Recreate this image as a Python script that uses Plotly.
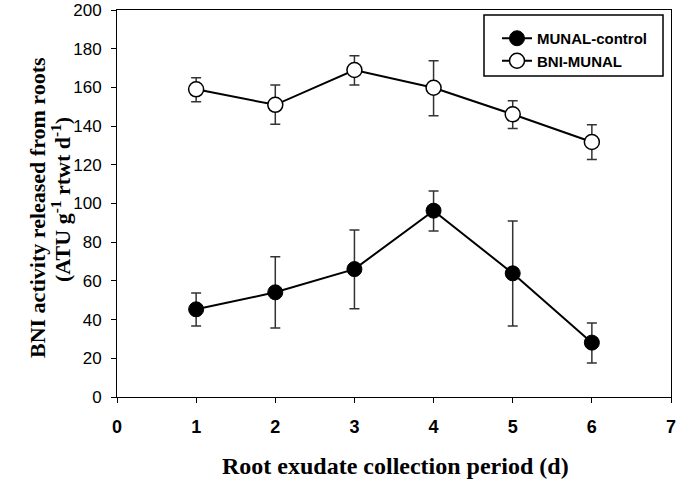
import plotly.graph_objects as go

days = [1, 2, 3, 4, 5, 6]

control_mean = [45.3, 54.1, 66.1, 96.3, 63.9, 28.1]
control_upper = [53.7, 72.5, 86.3, 106.5, 91.0, 38.2]
control_lower = [36.7, 35.7, 45.6, 85.8, 36.7, 17.6]

bni_mean = [159.0, 151.0, 169.0, 159.8, 146.1, 131.8]
bni_upper = [165.0, 161.2, 176.4, 173.8, 153.1, 140.7]
bni_lower = [152.6, 140.9, 161.2, 145.4, 138.7, 122.8]

x_ticks = [0, 1, 2, 3, 4, 5, 6, 7]
y_ticks = [0, 20, 40, 60, 80, 100, 120, 140, 160, 180, 200]

W, H = 677, 483
L, R, T, B = 117, 6, 10, 86
PW, PH = W - L - R, H - T - B


def px_x(p):
    return (p - L) / PW


def px_y(p):
    return (H - B - p) / PH


def err(mean, upper, lower):
    plus = [u - m for u, m in zip(upper, mean)]
    minus = [m - l for m, l in zip(mean, lower)]
    return dict(type="data", symmetric=False, array=plus, arrayminus=minus,
                color="#333333", thickness=1.5, width=5)


fig = go.Figure()
fig.add_trace(go.Scatter(
    x=days, y=control_mean, mode="lines+markers", name="<b>MUNAL-control</b>",
    line=dict(color="black", width=2),
    marker=dict(symbol="circle", size=15, color="black", line=dict(color="black", width=1)),
    error_y=err(control_mean, control_upper, control_lower),
))
fig.add_trace(go.Scatter(
    x=days, y=bni_mean, mode="lines+markers", name="<b>BNI-MUNAL</b>",
    line=dict(color="black", width=2),
    marker=dict(symbol="circle", size=15, color="white", line=dict(color="black", width=1.5)),
    error_y=err(bni_mean, bni_upper, bni_lower),
))

# legend frame
fig.add_shape(type="rect", xref="paper", yref="paper",
              x0=px_x(484), x1=px_x(663), y0=px_y(76), y1=px_y(15),
              line=dict(width=1.5, color="black"), fillcolor="white", layer="above")

fig.add_annotation(text="<b>BNI activity released from roots</b>", textangle=-90,
                   xref="paper", yref="paper", x=px_x(37), y=px_y(208),
                   xanchor="center", yanchor="middle", showarrow=False,
                   font=dict(family="Liberation Serif", size=22, color="black"))
fig.add_annotation(text="<b>(ATU g<sup>-1</sup> rtwt d<sup>-1</sup>)</b>", textangle=-90,
                   xref="paper", yref="paper", x=px_x(61), y=px_y(200),
                   xanchor="center", yanchor="middle", showarrow=False,
                   font=dict(family="Liberation Serif", size=22, color="black"))
fig.add_annotation(text="<b>Root exudate collection period (d)</b>",
                   xref="paper", yref="paper", x=px_x(395), y=px_y(466),
                   xanchor="center", yanchor="middle", showarrow=False,
                   font=dict(family="Liberation Serif", size=24, color="black"))

fig.update_layout(
    width=W, height=H,
    margin=dict(l=L, r=R, t=T, b=B),
    paper_bgcolor="white", plot_bgcolor="white",
    showlegend=True,
    legend=dict(
        x=px_x(497), y=px_y(22), xanchor="left", yanchor="top",
        bgcolor="rgba(0,0,0,0)", borderwidth=0,
        font=dict(family="Liberation Sans", size=15, color="black"),
        itemwidth=30, tracegroupgap=0,
    ),
    xaxis=dict(
        range=[0, 7], tickvals=x_ticks, ticks="outside", ticklen=5, tickwidth=1,
        tickcolor="black", showline=True, linecolor="black", linewidth=1, mirror=True,
        showgrid=False, zeroline=False, automargin=False, ticklabelstandoff=8,
        tickfont=dict(family="Liberation Sans", size=18, color="black", weight="bold"),
    ),
    yaxis=dict(
        range=[0, 200], tickvals=y_ticks, ticks="outside", ticklen=5, tickwidth=1,
        tickcolor="black", showline=True, linecolor="black", linewidth=1, mirror=True,
        showgrid=False, zeroline=False, automargin=False, ticklabelstandoff=6,
        tickfont=dict(family="Liberation Sans", size=17, color="black"),
    ),
)

fig.write_html("out.html", config={"displayModeBar": False},
               post_script="document.body.style.margin='0';document.body.style.overflow='hidden';")
